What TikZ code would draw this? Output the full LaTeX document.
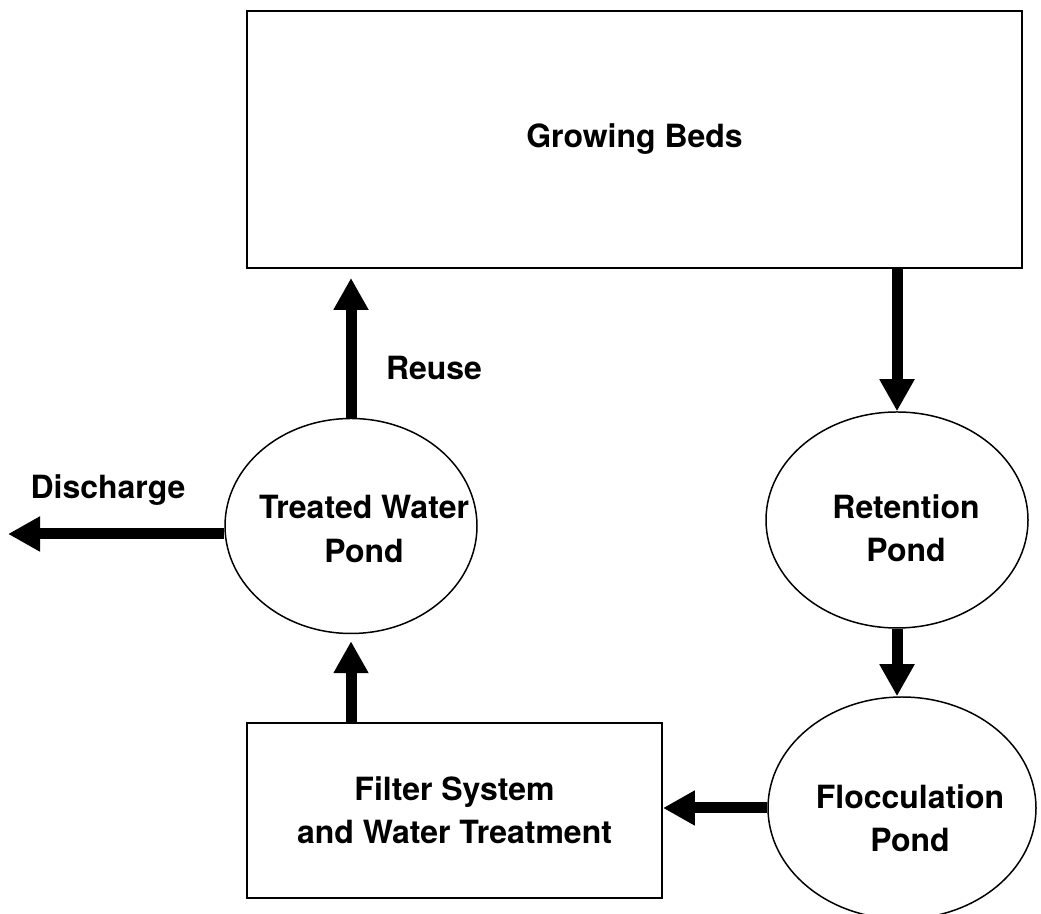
\documentclass[tikz,border=0pt]{standalone}
\usepackage{fontspec}
\setmainfont{TeX Gyre Heros}
\usetikzlibrary{shapes.geometric,arrows.meta}

\begin{document}
\begin{tikzpicture}[scale=1,
  every node/.style={font=\fontsize{18.2}{24.5}\selectfont\bfseries, align=center},
  bed/.style={draw, line width=1.1pt, inner sep=0pt},
  pond/.style={ellipse, draw, line width=0.85pt, inner sep=0pt},
  flow/.style={line width=0.22cm, -{Triangle[length=0.64cm,width=0.66cm]}}]
  \useasboundingbox (0,0) rectangle (20.82,18.28);
  \clip (0,0) rectangle (20.82,18.28);
  \node[bed, minimum width=15.5cm, minimum height=5.14cm] (beds) at (12.69,15.49) {Growing Beds};
  \node[bed, minimum width=8.3cm, minimum height=3.5cm] (filter) at (9.09,2.07) {Filter System\\and Water Treatment};
  \node[pond, minimum width=5.24cm, minimum height=4.32cm,
    label={[xshift=0.18cm, yshift=-0.16cm]center:{Retention\\Pond}}] (ret) at (17.94,7.88) {};
  \node[pond, minimum width=5.36cm, minimum height=4.44cm,
    label={[xshift=0.16cm, yshift=-0.2cm]center:{Flocculation\\Pond}}] (floc) at (18.04,2.12) {};
  \node[pond, minimum width=5.04cm, minimum height=4.3cm,
    label={[xshift=0.26cm, yshift=-0.06cm]center:{Treated Water\\Pond}}] (treated) at (7.02,7.76) {};
  \coordinate (dis) at (0.16,7.6);
  \node (reuse) at (8.68,10.92) {Reuse};
  \node (discharge) at (2.16,8.48) {Discharge};
  \draw[flow] (beds.south -| ret.north) -- (ret.north);
  \draw[flow] (ret.south) -- (ret.south |- floc.north);
  \draw[flow] (floc.west) -- (floc.west -| filter.east);
  \draw[flow, shorten >=0.14cm] (filter.north -| treated.south) -- (treated.south);
  \draw[flow, shorten >=0.18cm] (treated.north) -- (treated.north |- beds.south);
  \draw[flow] (treated.west |- dis) -- (dis);
\end{tikzpicture}
\end{document}
